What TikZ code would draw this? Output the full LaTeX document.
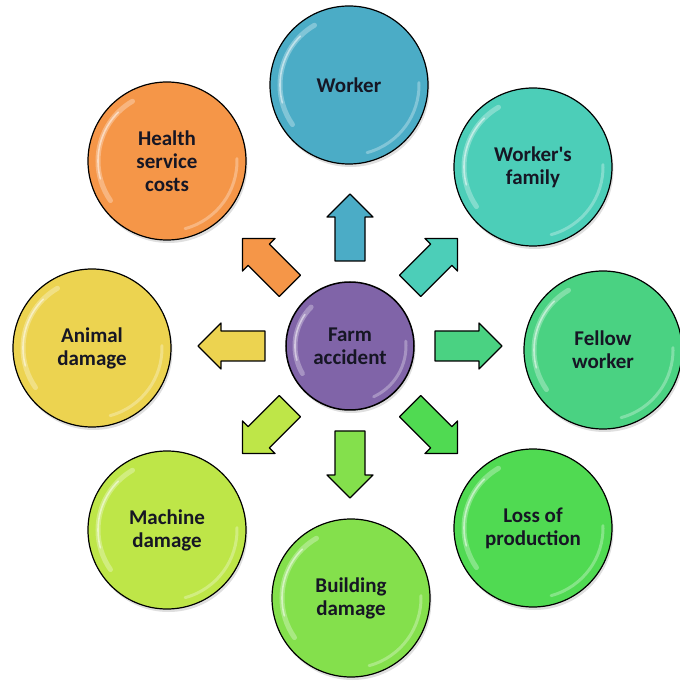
\documentclass[tikz,border=0pt]{standalone}
\usepackage{fontspec}
\setmainfont{Carlito}
\usetikzlibrary{shadows}

\definecolor{inkdark}{RGB}{22,22,36}
\definecolor{cFarm}{RGB}{128,100,168}
\definecolor{cWorker}{RGB}{75,172,198}
\definecolor{cFamily}{RGB}{76,206,184}
\definecolor{cFellow}{RGB}{74,210,130}
\definecolor{cLoss}{RGB}{80,218,82}
\definecolor{cBuilding}{RGB}{132,224,76}
\definecolor{cMachine}{RGB}{190,230,72}
\definecolor{cAnimal}{RGB}{236,211,80}
\definecolor{cHealth}{RGB}{245,150,72}

\tikzset{
  bubble/.style={circle, draw=black, line width=1.2pt, minimum size=158pt,
    inner sep=0pt, align=center, text=inkdark,
    font=\fontsize{21}{23}\selectfont\bfseries,
    drop shadow={shadow xshift=1.5pt, shadow yshift=-3pt, opacity=.25}},
  blockarrow/.style={draw=black, line width=1.2pt, line join=round},
  gloss/.style={white, line cap=round, opacity=.3, line width=5pt},
  glint/.style={white, line cap=round, opacity=.5, line width=1.6pt},
}

\begin{document}
\begin{tikzpicture}[x=1pt,y=1pt]
\useasboundingbox (-350,-341) rectangle (329,346);
% hub
\node[bubble, fill=cFarm, minimum size=128pt, line width=1.5pt] (farm) at (0,0) {Farm\\accident};
\draw[gloss] (farm.center) ++(135:55pt) arc[start angle=135, end angle=210, radius=55pt];
\draw[glint] (farm.center) ++(145:55pt) arc[start angle=145, end angle=195, radius=55pt];
\draw[gloss, line width=3pt] (farm.center) ++(-65:56pt) arc[start angle=-65, end angle=5, radius=56pt];
% outer bubbles and block arrows
\foreach \nm/\ang/\px/\py/\col/\txt in {
    worker/90/-1/261/cWorker/{Worker},
    family/45/183/179/cFamily/{Worker\textquotesingle s\\family},
    fellow/0/253/-4/cFellow/{Fellow\\worker},
    loss/-45/183/-182/cLoss/{Loss of\\production},
    building/-90/1/-252/cBuilding/{Building\\damage},
    machine/-135/-183/-184/cMachine/{Machine\\damage},
    animal/180/-258/-2/cAnimal/{Animal\\damage},
    health/135/-183/185/cHealth/{Health\\service\\costs}}{
  \node[bubble, fill=\col] (\nm) at (\px,\py) {\txt};
  \draw[gloss] (\nm.center) ++(120:69pt) arc[start angle=120, end angle=215, radius=69pt];
  \draw[glint] (\nm.center) ++(135:69pt) arc[start angle=135, end angle=195, radius=69pt];
  \draw[gloss, line width=3pt] (\nm.center) ++(-75:70pt) arc[start angle=-75, end angle=2, radius=70pt];
  \draw[blockarrow, fill=\col, shift={(farm.center)}, rotate=\ang]
    (85,-15) -- (129,-15) -- (129,-23) -- (152,0) -- (129,23) -- (129,15) -- (85,15) -- cycle;
}
\end{tikzpicture}
\end{document}
